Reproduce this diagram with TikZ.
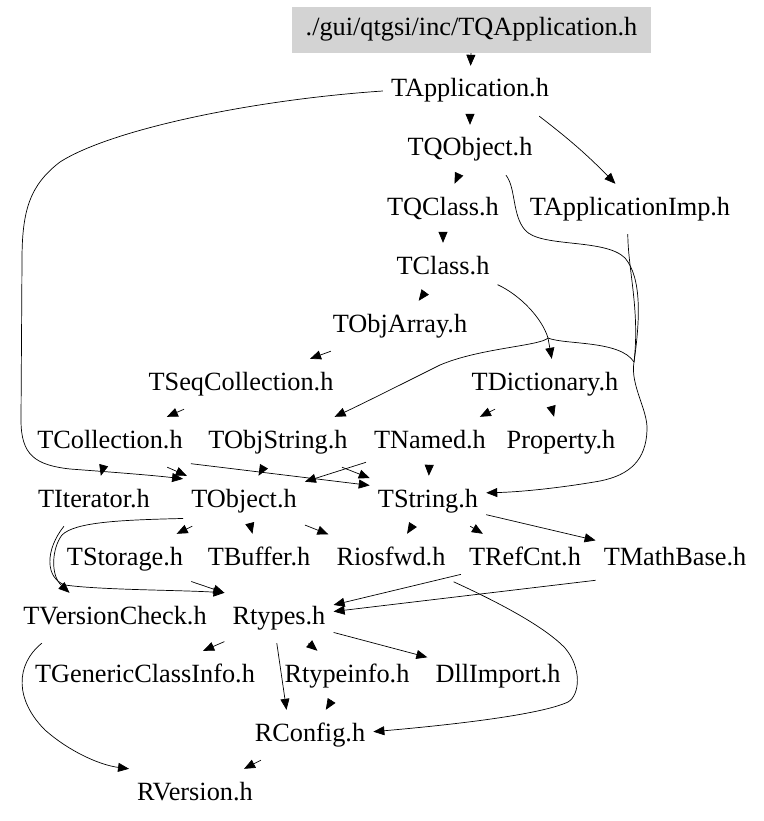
\documentclass[tikz,border=0pt]{standalone}
\usepackage{fontspec}
\setmainfont{Liberation Serif}
\usetikzlibrary{arrows.meta}
\definecolor{grisraiz}{RGB}{211,211,211}

\begin{document}
\begin{tikzpicture}[x=1pt, y=-1pt,
    archivo/.style={inner xsep=8pt, minimum height=50pt, text height=18pt, text depth=6pt,
        font=\fontsize{26.3}{30}\selectfont},
    flecha/.style={black, line width=0.7pt, -{Triangle[length=11pt, width=9pt]}}]
    \useasboundingbox (0,0) rectangle (763,821);

    % Nodos
    \node[archivo, fill=grisraiz, minimum width=359pt, minimum height=46pt] (TQApp) at (471.5,30) {./gui/qtgsi/inc/TQApplication.h};
    \node[archivo] (TApp) at (470,91) {TApplication.h};
    \node[archivo] (TQObj) at (470,150) {TQObject.h};
    \node[archivo] (TQClass) at (443,209) {TQClass.h};
    \node[archivo] (TAppImp) at (630,209) {TApplicationImp.h};
    \node[archivo] (TClass) at (443,268) {TClass.h};
    \node[archivo] (TObjArray) at (400,326) {TObjArray.h};
    \node[archivo] (TSeqColl) at (241,384) {TSeqCollection.h};
    \node[archivo] (TDict) at (545,384) {TDictionary.h};
    \node[archivo] (TColl) at (110,442) {TCollection.h};
    \node[archivo] (TObjStr) at (278,442) {TObjString.h};
    \node[archivo] (TNamed) at (430,442) {TNamed.h};
    \node[archivo] (Property) at (561,442) {Property.h};
    \node[archivo] (TIter) at (94,501) {TIterator.h};
    \node[archivo] (TObject) at (244,501) {TObject.h};
    \node[archivo] (TString) at (428,501) {TString.h};
    \node[archivo] (TStorage) at (125,559) {TStorage.h};
    \node[archivo] (TBuffer) at (259,559) {TBuffer.h};
    \node[archivo] (Riosfwd) at (391,559) {Riosfwd.h};
    \node[archivo] (TRefCnt) at (525,559) {TRefCnt.h};
    \node[archivo] (TMathBase) at (675,559) {TMathBase.h};
    \node[archivo] (TVersion) at (115,618) {TVersionCheck.h};
    \node[archivo] (Rtypes) at (279,618) {Rtypes.h};
    \node[archivo] (TGeneric) at (145,676) {TGenericClassInfo.h};
    \node[archivo] (Rtypeinfo) at (347,676) {Rtypeinfo.h};
    \node[archivo] (DllImport) at (498,676) {DllImport.h};
    \node[archivo] (RConfig) at (310,735) {RConfig.h};
    \node[archivo] (RVersion) at (195,794) {RVersion.h};
    \coordinate (tronco) at (634,362);
    \coordinate (cruce) at (548,338);

    % Flechas cortas
    \draw[flecha] (TQApp) -- (TApp);
    \draw[flecha] (TApp) -- (TQObj);
    \draw[flecha] (TApp.-20) to[bend left=4] (TAppImp.120);
    \draw[flecha] (TQObj) -- (TQClass);
    \draw[flecha] (TQClass) -- (TClass);
    \draw[flecha] (TClass) -- (TObjArray);
    \draw[flecha] (TObjArray) -- (TSeqColl);
    \draw[flecha] (TSeqColl) -- (TColl);
    \draw[flecha] (TDict) -- (TNamed);
    \draw[flecha] (TDict) -- (Property);
    \draw[flecha] (TColl) -- (TIter);
    \draw[flecha] (TColl) -- (TObject);
    \draw[flecha] (TColl.-15) -- (TString.165);
    \draw[flecha] (TObjStr) -- (TObject);
    \draw[flecha] (TObjStr) -- (TString);
    \draw[flecha] (TNamed) -- (TObject);
    \draw[flecha] (TNamed) -- (TString);
    \draw[flecha] (TObject) -- (TStorage);
    \draw[flecha] (TObject) -- (TBuffer);
    \draw[flecha] (TObject) -- (Riosfwd);
    \draw[flecha] (TString) -- (Riosfwd);
    \draw[flecha] (TString) -- (TRefCnt);
    \draw[flecha] (TString) -- (TMathBase);
    \draw[flecha] (TStorage) -- (Rtypes.north west);
    \draw[flecha] (TRefCnt) -- (Rtypes);
    \draw[flecha] (TMathBase.195) -- (Rtypes);
    \draw[flecha] (Rtypes) -- (TGeneric);
    \draw[flecha] (Rtypes) -- (Rtypeinfo);
    \draw[flecha] (Rtypes) -- (DllImport);
    \draw[flecha] (Rtypes.-95) -- (RConfig.133);
    \draw[flecha] (Rtypeinfo) -- (RConfig);
    \draw[flecha] (RConfig) -- (RVersion);

    % Curvas largas (lado izquierdo)
    \draw[flecha] (TApp.west) .. controls (250,100) and (110,130) .. (60,162)
        .. controls (30,185) and (22,210) .. (22,260) -- (21,420)
        .. controls (21,455) and (35,465) .. (70,469)
        .. controls (110,472) and (150,475) .. (TObject.160);
    \draw[flecha] (TObject.-164) .. controls (120,520) and (75,522) .. (62,535)
        .. controls (52,548) and (50,575) .. (TVersion.151);
    \draw[flecha] (TIter.-140) .. controls (45,550) and (45,578) .. (65,585)
        .. controls (100,590) and (180,590) .. (Rtypes.north west);
    \draw[flecha] (TVersion.-161) .. controls (15,665) and (15,700) .. (45,730)
        .. controls (70,752) and (100,765) .. (RVersion.north west);

    % Curvas largas (lado derecho)
    \draw[black, line width=0.7pt] (TClass.-17) .. controls (520,295) and (542,318) .. (cruce);
    \draw[flecha] (cruce) -- (TDict.75);
    \draw[flecha] (cruce) .. controls (540,346) and (480,348) .. (440,365)
        .. controls (400,385) and (360,405) .. (TObjStr.24);
    \draw[black, line width=0.7pt] (cruce) .. controls (565,345) and (620,340) .. (tronco);
    \draw[black, line width=0.7pt] (TQObj.-35) .. controls (516,188) and (512,215) .. (525,230)
        .. controls (540,248) and (605,238) .. (625,258)
        .. controls (642,278) and (640,320) .. (tronco);
    \draw[black, line width=0.7pt] (TAppImp.-95) .. controls (628,270) and (640,310) .. (tronco);
    \draw[flecha] (tronco) .. controls (630,385) and (648,410) .. (647,430)
        .. controls (646,460) and (630,475) .. (600,481)
        .. controls (560,488) and (520,492) .. (TString.8);
    \draw[flecha] (Riosfwd.-20) .. controls (500,603) and (545,627) .. (565,648)
        .. controls (582,668) and (580,695) .. (568,702)
        .. controls (540,715) and (450,725) .. (RConfig.3);
\end{tikzpicture}
\end{document}
